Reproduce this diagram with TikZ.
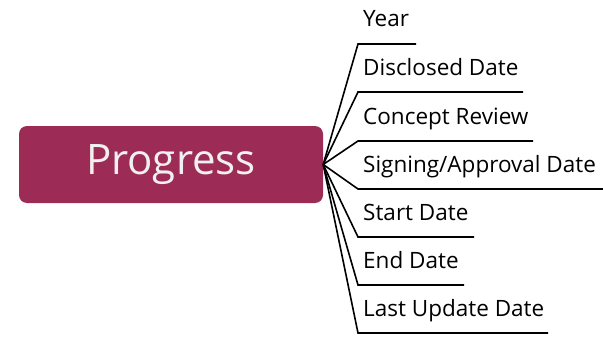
\documentclass[tikz,border=0pt]{standalone}
\usepackage{fontspec}
\setmainfont{Open Sans}
\usepackage{tikz}
\usetikzlibrary{positioning}
\definecolor{rootred}{HTML}{9C2C56}
\tikzset{
  rootblock/.style={rectangle, rounded corners=8pt, fill=rootred, text=white!94!black, minimum width=304pt, minimum height=77pt, font=\fontsize{42}{46}\selectfont},
  leaf/.style={anchor=base west, inner sep=0pt, font=\fontsize{22.5}{26}\selectfont},
  branch/.style={line width=1.6pt},
}

\begin{document}
\begin{tikzpicture}[x=1pt, y=-1pt]
  \useasboundingbox (0,0) rectangle (603,340);

  % Root
  \node[rootblock] (progress) at (171,164.5) {Progress};

  % Underline end points
  \coordinate (year-a) at (358,44);   \coordinate (year-b) at (416,44);
  \coordinate (disc-a) at (358,92);   \coordinate (disc-b) at (523,92);
  \coordinate (conc-a) at (358,141);  \coordinate (conc-b) at (533,141);
  \coordinate (sign-a) at (358,189);  \coordinate (sign-b) at (603,189);
  \coordinate (start-a) at (358,237); \coordinate (start-b) at (474,237);
  \coordinate (end-a) at (358,285);   \coordinate (end-b) at (464,285);
  \coordinate (last-a) at (358,333);  \coordinate (last-b) at (548,333);

  % Labels
  \node[leaf] (year) at (363,27) {Year};
  \node[leaf] (disc) at (363,75) {Disclosed Date};
  \node[leaf] (conc) at (363,124) {Concept Review};
  \node[leaf] (sign) at (363,172) {Signing/Approval Date};
  \node[leaf] (start) at (363,220) {Start Date};
  \node[leaf] (end) at (363,268) {End Date};
  \node[leaf] (last) at (363,316) {Last Update Date};

  % Branches
  \draw[branch] (progress.east) -- (year-a) -- (year-b);
  \draw[branch] (progress.east) -- (disc-a) -- (disc-b);
  \draw[branch] (progress.east) -- (conc-a) -- (conc-b);
  \draw[branch] (progress.east) -- (sign-a) -- (sign-b);
  \draw[branch] (progress.east) -- (start-a) -- (start-b);
  \draw[branch] (progress.east) -- (end-a) -- (end-b);
  \draw[branch] (progress.east) -- (last-a) -- (last-b);

\end{tikzpicture}
\end{document}
